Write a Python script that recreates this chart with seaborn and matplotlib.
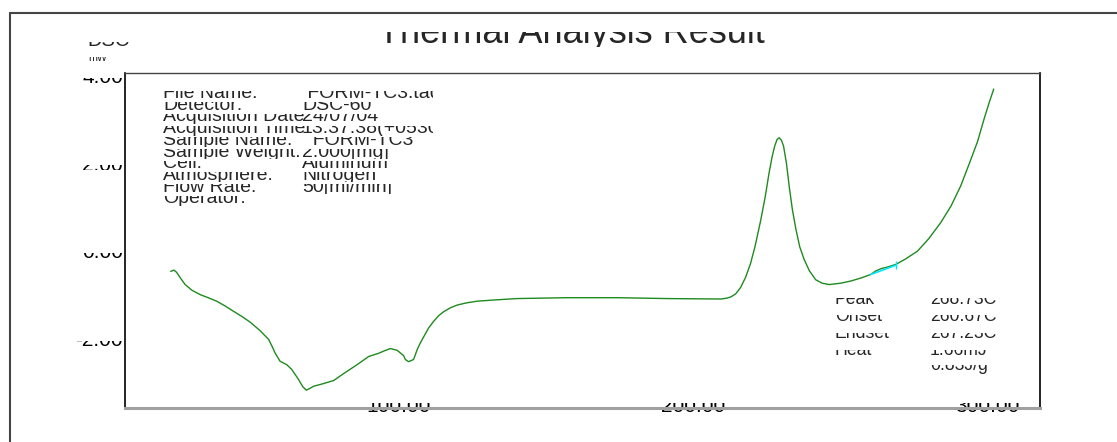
import numpy as np
import seaborn as sns
import matplotlib
matplotlib.use("Agg")
import matplotlib.pyplot as plt
from matplotlib.lines import Line2D
from matplotlib.transforms import Bbox

# DSC trace
temp = [22.8, 23.9, 24.8, 26.2, 27.7, 30.0, 32.8, 35.5, 38.4, 41.3, 44.1, 47.0,
        49.8, 53.1, 56.0, 57.2, 58.2, 59.9, 62.2, 63.9, 66.2, 67.6, 68.8, 70.0,
        71.3, 74.1, 78.1, 81.5, 86.0, 90.0, 93.3, 95.0, 97.3, 99.6, 101.8, 102.4,
        103.5, 105.2, 106.5, 107.5, 110.3, 112.0, 113.7, 115.4, 117.7, 119.9, 123.0,
        126.7, 133.0, 140.3, 157.3, 174.3, 191.3, 209.5, 211.5, 212.9, 214.5, 216.1,
        217.8, 219.5, 221.0, 223.0, 224.5, 225.8, 226.8, 227.7, 228.5, 229.2, 230.0,
        230.7, 231.7, 232.6, 233.7, 234.9, 236.2, 237.7, 239.5, 241.6, 243.8, 246.2,
        250.0, 253.5, 257.0, 260.3, 262.0, 263.7, 266.0, 268.8, 272.0, 276.1, 280.0,
        284.0, 287.5, 290.8, 294.0, 296.5, 298.7, 300.5, 302.0]
heat_flow = [-0.21, -0.18, -0.23, -0.37, -0.51, -0.64, -0.74, -0.81, -0.89, -1.00, -1.12, -1.24,
             -1.37, -1.56, -1.76, -1.92, -2.07, -2.26, -2.34, -2.45, -2.68, -2.84, -2.92, -2.88,
             -2.83, -2.78, -2.70, -2.54, -2.34, -2.15, -2.08, -2.03, -1.97, -2.01, -2.13, -2.22,
             -2.27, -2.22, -1.98, -1.84, -1.50, -1.35, -1.22, -1.13, -1.04, -0.98, -0.93,
             -0.89, -0.86, -0.83, -0.81, -0.81, -0.83, -0.84, -0.82, -0.79, -0.72, -0.58,
             -0.35, -0.03, 0.35, 0.97, 1.50, 2.04, 2.40, 2.65, 2.80, 2.84, 2.78,
             2.65, 2.25, 1.74, 1.20, 0.75, 0.35, 0.06, -0.20, -0.40, -0.48, -0.51,
             -0.48, -0.43, -0.36, -0.28, -0.20, -0.15, -0.11, -0.05, 0.07, 0.25, 0.54,
             0.90, 1.28, 1.74, 2.30, 2.75, 3.26, 3.65, 3.95]

# baseline of the analysed small peak
base_temp = [260.3, 268.8]
base_flow = [-0.28, -0.07]

info_keys = ["File Name:", "Detector:", "Acquisition Date", "Acquisition Time",
             "Sample Name:", "Sample Weight:", "Cell:", "Atmosphere:", "Flow Rate:", "Operator:"]
info_vals = [" FORM-TC3.tad", "DSC-60", "24/07/04", "13:37:38(+0530)", "  FORM-TC3",
             "2.000[mg]", "Aluminum", "Nitrogen", "50[ml/min]", ""]

peak_keys = ["Peak", "Onset", "Endset", "Heat", ""]
peak_vals = ["268.73C", "260.67C", "267.23C", "1.66mJ", "0.83J/g"]

x_major = [100, 200, 300]
x_labels = ["100.00", "200.00", "300.00"]
y_major = [-2, 0, 2, 4]
y_labels = ["-2.00", "0.00", "2.00", "4.00"]

W, H = 1117, 442

sns.set_style("white")
plt.rcParams["font.family"] = ["Liberation Sans", "DejaVu Sans"]

fig = plt.figure(figsize=(W / 100, H / 100), dpi=100)
ax = fig.add_axes([125 / W, 1 - 407.7 / H, (1040 - 125) / W, (407.7 - 73.3) / H])

sns.lineplot(x=temp, y=heat_flow, ax=ax, color="#1f8a1f", linewidth=1.0, estimator=None)
ax.plot(base_temp, base_flow, color="#00e8ff", linewidth=1.2)
ax.plot(base_temp[-1:], base_flow[-1:], marker="|", color="#00e8ff", markersize=6)

ax.set_xlim(7.3, 317.7)
ax.set_ylim(-3.32, 4.31)
ax.set_xlabel("")
ax.set_ylabel("")

ax.set_xticks(x_major, labels=x_labels)
ax.set_xticks(np.arange(20, 320, 20), minor=True)
ax.set_yticks(y_major, labels=y_labels, va="bottom")
ax.set_yticks(np.arange(-3, 4.01, 0.5), minor=True)
ax.tick_params(axis="both", which="both", direction="in", labelsize=15, colors="#333333",
               labelcolor="black")
ax.tick_params(axis="x", which="both", length=2.5, width=1, pad=-7.8)
ax.tick_params(axis="y", which="both", length=4.8, width=1, pad=1.4)

ax.spines["left"].set_color("black")
ax.spines["left"].set_linewidth(1.2)
ax.spines["right"].set_color("black")
ax.spines["right"].set_linewidth(1.2)
ax.spines["top"].set_color("#444444")
ax.spines["top"].set_linewidth(1.0)
ax.spines["bottom"].set_color("#a0a0a0")
ax.spines["bottom"].set_linewidth(2.2)

# outer report frame
fig.add_artist(Line2D([10 / W, 1], [1 - 13.3 / H] * 2, transform=fig.transFigure,
                      color="#444444", linewidth=1.5))
fig.add_artist(Line2D([10 / W] * 2, [0, 1 - 13.3 / H], transform=fig.transFigure,
                      color="#444444", linewidth=1.5))

strips = []


def strip_text(x, baseline, s, size, above, below, right=W, **kw):
    # text drawn at pixel coords, only a horizontal strip of it stays visible
    t = fig.text(x / W, 1 - baseline / H, s, fontsize=size, va="baseline", **kw)
    strips.append((t, Bbox.from_extents(0, H - baseline - below, right, H - baseline + above)))
    return t


strip_text(571, 43, "Thermal Analysis Result", 26, 11.5, 4, ha="center")
strip_text(87, 46.5, "DSC", 14.5, 5, 0)
strip_text(88, 60.7, "mW", 7.7, 4, 0)

for i, (k, v) in enumerate(zip(info_keys, info_vals)):
    b = 98 + 11.7 * i
    strip_text(163, b, k, 14, 7.5, 2.5, right=433)
    strip_text(302, b, v, 14, 7.5, 2.5, right=433)

peak_base = [303.5, 320.7, 338, 355.3, 370]
for b, k, v in zip(peak_base, peak_keys, peak_vals):
    strip_text(835, b, k, 12.7, 5.5, 1)
    strip_text(930, b, v, 12.7, 5.5, 4 if v.endswith("g") else 1)

fig.canvas.draw()
for t, box in strips:
    t.set_clip_on(True)
    t.set_clip_box(box)
for lab in ax.get_xticklabels():
    lab.set_clip_on(True)
    lab.set_clip_box(Bbox.from_extents(0, H - 413, W, H - 403))
for lab in ax.get_yticklabels():
    yd = ax.transData.transform((0, lab.get_position()[1]))[1]
    lab.set_clip_on(True)
    lab.set_clip_box(Bbox.from_extents(0, yd + 4.2, W, yd + 9.2))

fig.savefig("out.png", dpi=100)
